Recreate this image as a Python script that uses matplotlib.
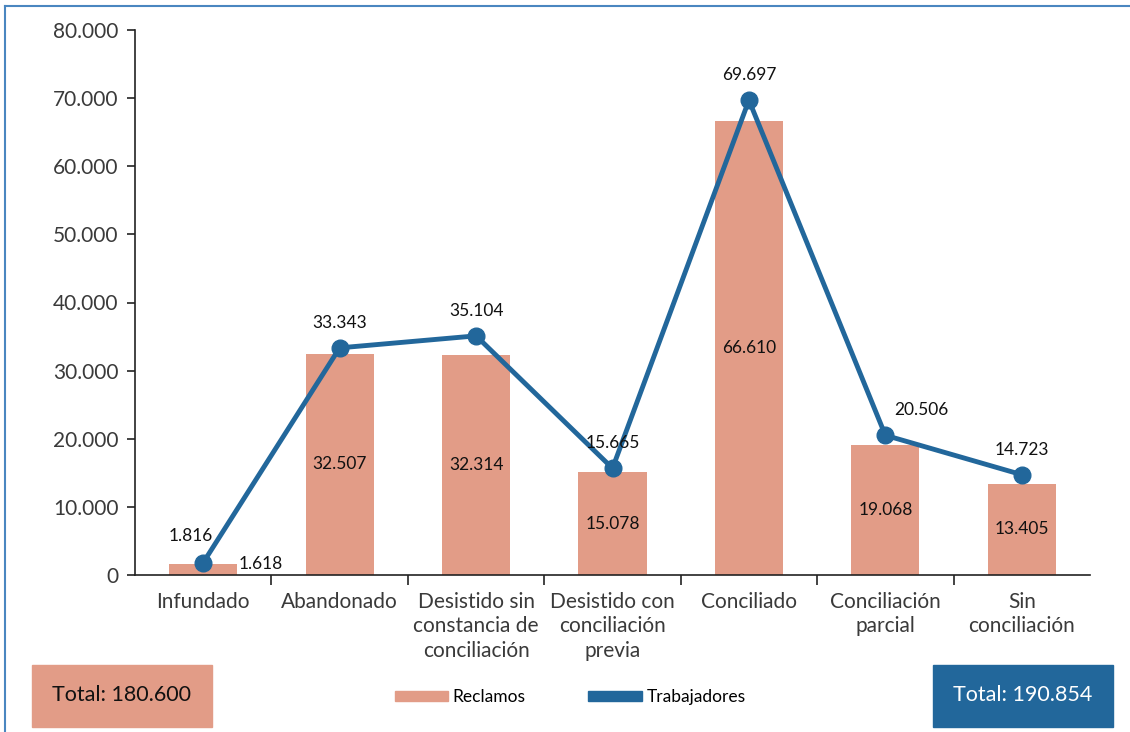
import numpy as np
from matplotlib import pyplot as plt
from matplotlib.patches import Patch, Rectangle
from matplotlib.lines import Line2D
from matplotlib.ticker import FuncFormatter, FixedLocator

categories = ['Infundado', 'Abandonado', 'Desistido sin\nconstancia de\nconciliación',
              'Desistido con\nconciliación\nprevia', 'Conciliado', 'Conciliación\nparcial',
              'Sin\nconciliación']
reclamos = [1618, 32507, 32314, 15078, 66610, 19068, 13405]
trabajadores = [1816, 33343, 35104, 15665, 69697, 20506, 14723]
total_reclamos = 'Total: 180.600'
total_trabajadores = 'Total: 190.854'

BAR_COLOR = '#E29C87'
LINE_COLOR = '#22679B'

plt.rcParams['font.family'] = ['Lato', 'DejaVu Sans']


def miles(v, _pos=None):
    return f'{int(round(v)):,}'.replace(',', '.')


def main():
    fig = plt.figure(figsize=(11.3, 7.32), dpi=100)
    ax = fig.add_axes([135 / 1130, 157 / 732, 955 / 1130, 545 / 732])

    x = np.arange(len(categories))
    ax.bar(x, reclamos, width=0.5, color=BAR_COLOR, zorder=1)
    ax.plot(x, trabajadores, color=LINE_COLOR, lw=3.5, marker='o', markersize=12, zorder=3)

    # bar labels in the middle of each bar (first one sits to the right)
    for i, v in enumerate(reclamos):
        if i == 0:
            ax.annotate(miles(v), (x[i] + 0.25, v), xytext=(1, 0), textcoords='offset points',
                        ha='left', va='center', fontsize=12.5, color='#111111', zorder=4)
        else:
            ax.text(x[i], v / 2, miles(v), ha='center', va='center', fontsize=12.5,
                    color='#111111', zorder=4)

    # line labels above the markers
    offsets = {0: (-9, 19), 5: (26, 18)}
    for i, v in enumerate(trabajadores):
        dx, dy = offsets.get(i, (0, 18))
        ax.annotate(miles(v), (x[i], v), xytext=(dx, dy), textcoords='offset points',
                    ha='center', va='center', fontsize=12.5, color='#111111', zorder=4)

    ax.set_ylim(0, 80000)
    ax.set_xlim(-0.5, len(categories) - 0.5)
    ax.set_yticks(np.arange(0, 80001, 10000))
    ax.yaxis.set_major_formatter(FuncFormatter(miles))
    ax.tick_params(axis='y', labelsize=15, colors='#222222', length=6, width=1.2, pad=6,
                   labelcolor='#3a3a3a')

    # category names as minor ticks, separators as major ticks
    ax.xaxis.set_major_locator(FixedLocator(np.arange(0.5, len(categories) - 0.5, 1)))
    ax.xaxis.set_major_formatter(FuncFormatter(lambda v, p: ''))
    ax.set_xticks(x, minor=True)
    ax.set_xticklabels(categories, minor=True)
    ax.tick_params(axis='x', which='major', length=7, width=1.2, color='#222222')
    ax.tick_params(axis='x', which='minor', length=0, labelsize=15, pad=12,
                   labelcolor='#3a3a3a')
    for lbl in ax.get_xticklabels(minor=True):
        lbl.set_linespacing(1.3)
        lbl.set_verticalalignment('top')

    for side in ('top', 'right'):
        ax.spines[side].set_visible(False)
    for side in ('left', 'bottom'):
        ax.spines[side].set_linewidth(1.2)
        ax.spines[side].set_color('#222222')

    # total boxes
    fig.patches.append(Rectangle((32 / 1130, 5 / 732), 180 / 1130, 62 / 732,
                                 transform=fig.transFigure, color=BAR_COLOR))
    fig.text(122 / 1130, 37 / 732, total_reclamos, ha='center', va='center',
             fontsize=15.5, color='#111111')
    fig.patches.append(Rectangle((933 / 1130, 5 / 732), 180 / 1130, 62 / 732,
                                 transform=fig.transFigure, color=LINE_COLOR))
    fig.text(1023 / 1130, 37 / 732, total_trabajadores, ha='center', va='center',
             fontsize=15.5, color='white')

    handles = [Patch(color=BAR_COLOR, label='Reclamos'),
               Patch(color=LINE_COLOR, label='Trabajadores')]
    fig.legend(handles=handles, loc='center', bbox_to_anchor=(570 / 1130, 35 / 732),
               ncol=2, frameon=False, fontsize=12.5, handlelength=3.1, handleheight=0.55,
               handletextpad=0.25, columnspacing=3.6)

    # thin blue frame on top and left
    fig.add_artist(Line2D([5 / 1130, 1], [1 - 6 / 732, 1 - 6 / 732],
                          transform=fig.transFigure, color='#4A86C0', lw=1.5))
    fig.add_artist(Line2D([5 / 1130, 5 / 1130], [0, 1 - 6 / 732],
                          transform=fig.transFigure, color='#4A86C0', lw=1.5))

    fig.savefig('out.png', dpi=100)


if __name__ == '__main__':
    main()
